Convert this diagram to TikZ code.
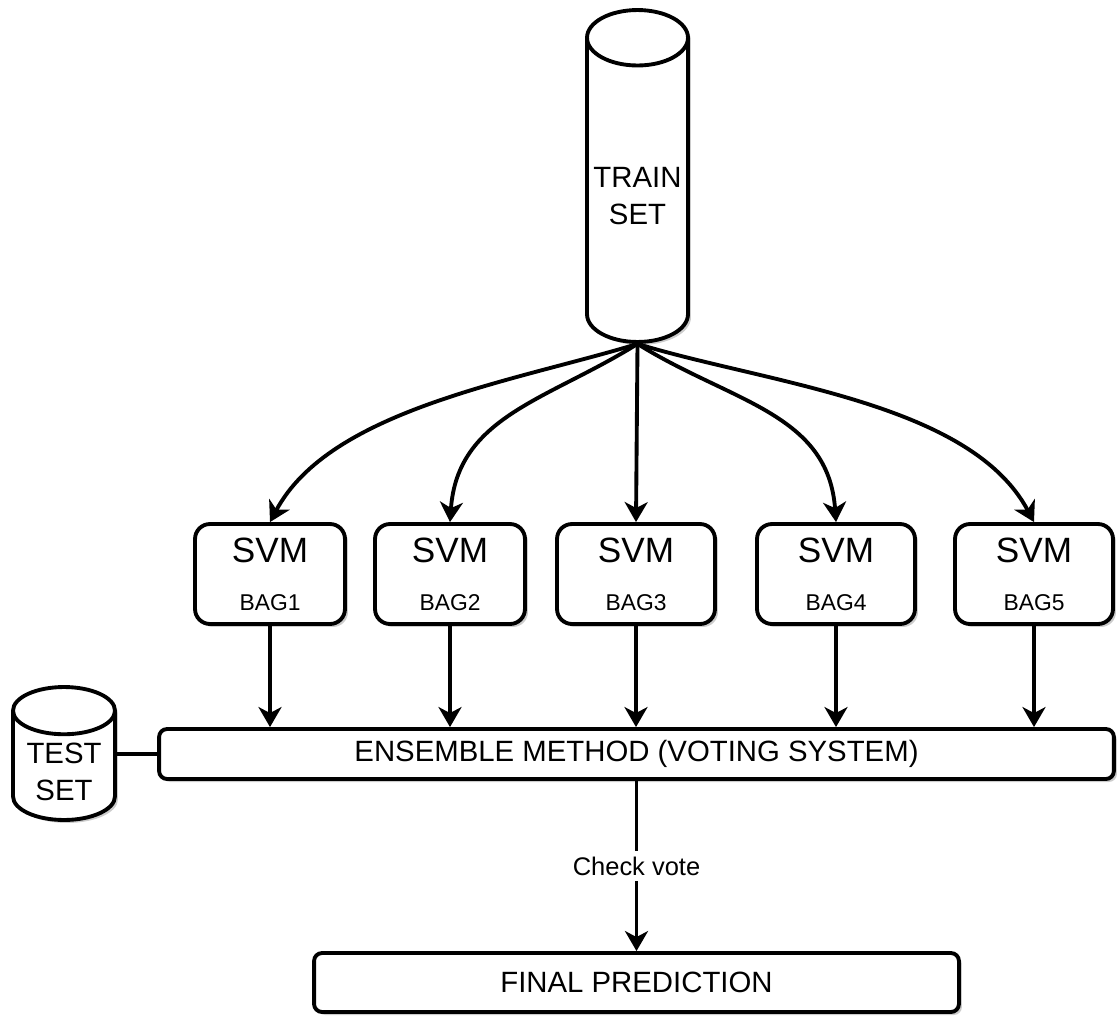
\documentclass[tikz,border=0pt]{standalone}
\usepackage{fontspec}
\setmainfont{Liberation Sans}
\usetikzlibrary{positioning}
\usetikzlibrary{arrows.meta}
\usetikzlibrary{shapes.geometric}
\usetikzlibrary{shadows}

\newcommand{\svmfont}{\fontsize{20}{24}\selectfont}
\newcommand{\bagfont}{\fontsize{13}{16}\selectfont}
\newcommand{\boxfont}{\fontsize{16.7}{21}\selectfont}
% two-line label with no height of its own, set a bit low
\newcommand{\dbtext}[2]{\raisebox{-9pt}[0pt][0pt]{\begin{tabular}{@{}c@{}}#1\\#2\end{tabular}}}

\tikzset{
  softshadow/.style={drop shadow={shadow xshift=0.06cm, shadow yshift=-0.06cm, fill=black, opacity=0.2}},
  dbshape/.style={cylinder, shape border rotate=90, aspect=0.63, draw, line width=2.2pt, fill=white, inner sep=0pt, font=\boxfont, softshadow},
  svmbox/.style={draw, line width=2.2pt, rounded corners=0.3cm, fill=white, minimum height=2cm, align=center, inner sep=0pt, softshadow},
  barbox/.style={draw, line width=2.2pt, rounded corners=0.16cm, fill=white, minimum height=1cm, font=\boxfont, softshadow},
  flow/.style={line width=2.2pt, -{Stealth[length=0.4cm, width=0.46cm, inset=0.12cm]}}
}

\begin{document}
\begin{tikzpicture}[x=0.02cm, y=-0.02cm]
\useasboundingbox (0,0) rectangle (1119,1021);

% Data sets
\node[dbshape, minimum width=2.02cm, minimum height=6.64cm, anchor=shape center] (train) at (637.5,176) {\dbtext{TRAIN}{SET}};
\node[dbshape, minimum width=2.04cm, minimum height=2.66cm, anchor=shape center] (test) at (64,753.5) {\dbtext{TEST}{SET}};

% One SVM per bag
\foreach \n/\x/\w in {1/270/3, 2/450/3, 3/636/3.16, 4/836/3.16, 5/1034/3.16} {
    \node[svmbox, minimum width=\w cm] (svm\n) at (\x,574) {{\svmfont SVM}\\[15.5pt]{\bagfont BAG\n}};
}

% Voting and result
\node[barbox, minimum width=19.1cm] (ens) at (636.5,754) {ENSEMBLE METHOD (VOTING SYSTEM)};
\node[barbox, minimum width=12.9cm, minimum height=1.18cm] (final) at (636.5,982.5) {FINAL PREDICTION};

% Bootstrap arrows
\foreach \n/\o/\i/\l in {1/197/62/0.8, 2/212/86/1.05, 4/328/94/1.05, 5/343/118/0.8} {
    \draw[flow] (train.south) to[out=\o, in=\i, looseness=\l] (svm\n.north);
}
\draw[flow] (train.south) -- (svm3.north);

% Votes
\foreach \n in {1,...,5} {
    \draw[flow] (svm\n.south) -- (svm\n.south |- ens.north);
}
\draw[line width=2.2pt] (ens.west) -- (ens.west -| test.east);
\draw[flow] (ens.south) -- node[fill=white, inner sep=3pt, font=\fontsize{14.5}{17}\selectfont] {Check vote} (final.north);

\end{tikzpicture}
\end{document}
